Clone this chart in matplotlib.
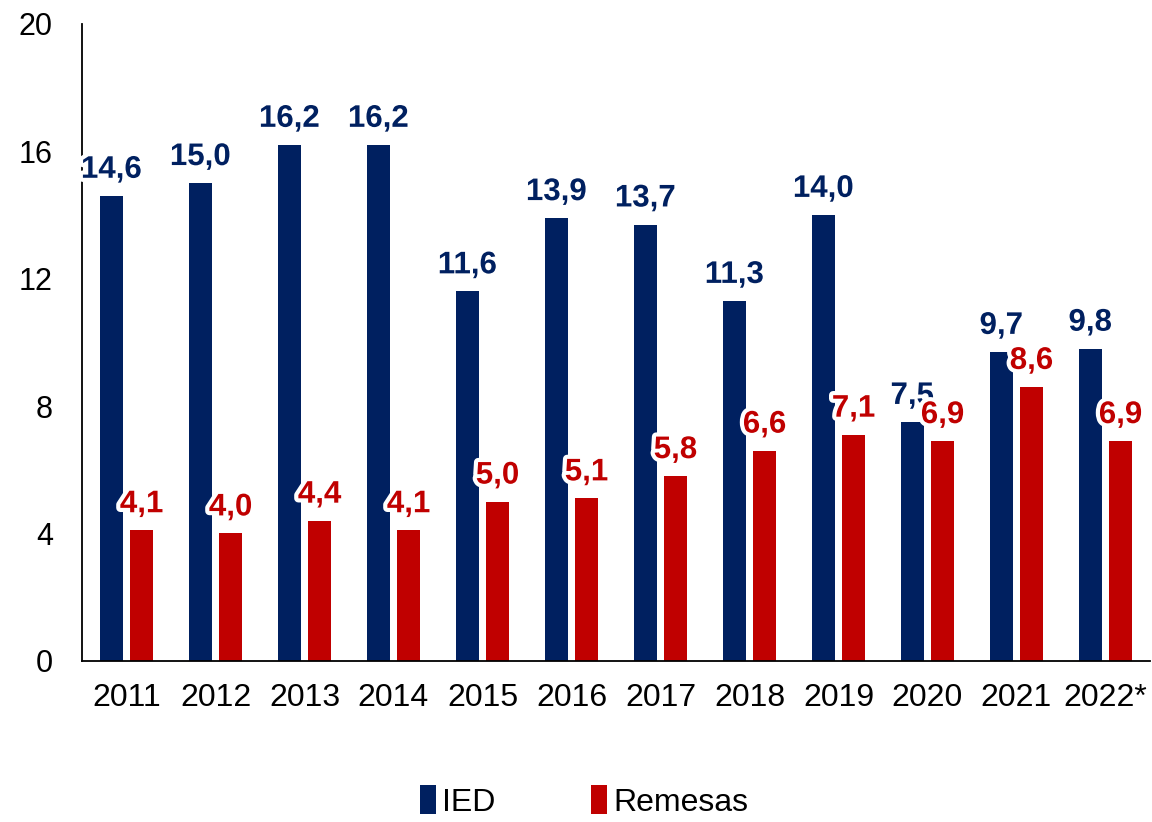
import matplotlib
matplotlib.use("Agg")
import matplotlib.pyplot as plt
import matplotlib.patheffects as pe
import numpy as np

# === datos ===
years = ["2011", "2012", "2013", "2014", "2015", "2016", "2017", "2018",
         "2019", "2020", "2021", "2022*"]
ied = [14.6, 15.0, 16.2, 16.2, 11.6, 13.9, 13.7, 11.3, 14.0, 7.5, 9.7, 9.8]
remesas = [4.1, 4.0, 4.4, 4.1, 5.0, 5.1, 5.8, 6.6, 7.1, 6.9, 8.6, 6.9]
yticks = [0, 4, 8, 12, 16, 20]

NAVY = "#002060"
RED = "#C00000"

plt.rcParams['font.family'] = ['Liberation Sans', 'DejaVu Sans']

fig = plt.figure(figsize=(11.52, 8.22), dpi=100)
ax = fig.add_axes([0.0712, 0.196, 0.927, 0.775])

x = np.arange(len(years))
w = 0.26
off = 0.17
b1 = ax.bar(x - off, ied, width=w, color=NAVY, label="IED")
b2 = ax.bar(x + off, remesas, width=w, color=RED, label="Remesas")

glow = [pe.withStroke(linewidth=6, foreground="white")]

def fmt(v):
    return f"{v:.1f}".replace(".", ",")

for bars, vals, col in [(b1, ied, NAVY), (b2, remesas, RED)]:
    for rect, v in zip(bars, vals):
        ax.annotate(fmt(v), (rect.get_x() + rect.get_width() / 2, v),
                    xytext=(0, 13), textcoords="offset points",
                    ha="center", va="baseline", fontsize=22.5,
                    fontweight="bold", color=col, path_effects=glow)

ax.set_xlim(-0.5, len(years) - 0.5)
ax.set_ylim(0, 20)
ax.set_yticks(yticks)
ax.set_yticklabels([str(t) for t in yticks])
ax.set_xticks(x)
ax.set_xticklabels(years)
ax.tick_params(axis="x", length=0, labelsize=23, pad=16)
ax.tick_params(axis="y", length=0, labelsize=22, pad=21)

for s in ["top", "right"]:
    ax.spines[s].set_visible(False)
ax.spines["left"].set_linewidth(1.3)
ax.spines["bottom"].set_linewidth(1.3)

fig.legend(loc="center", bbox_to_anchor=(0.507, 0.025), ncol=2, frameon=False,
           fontsize=23, handlelength=0.5, handleheight=1.0, handletextpad=0.2,
           columnspacing=3.0)

fig.savefig("out.png", dpi=100)
